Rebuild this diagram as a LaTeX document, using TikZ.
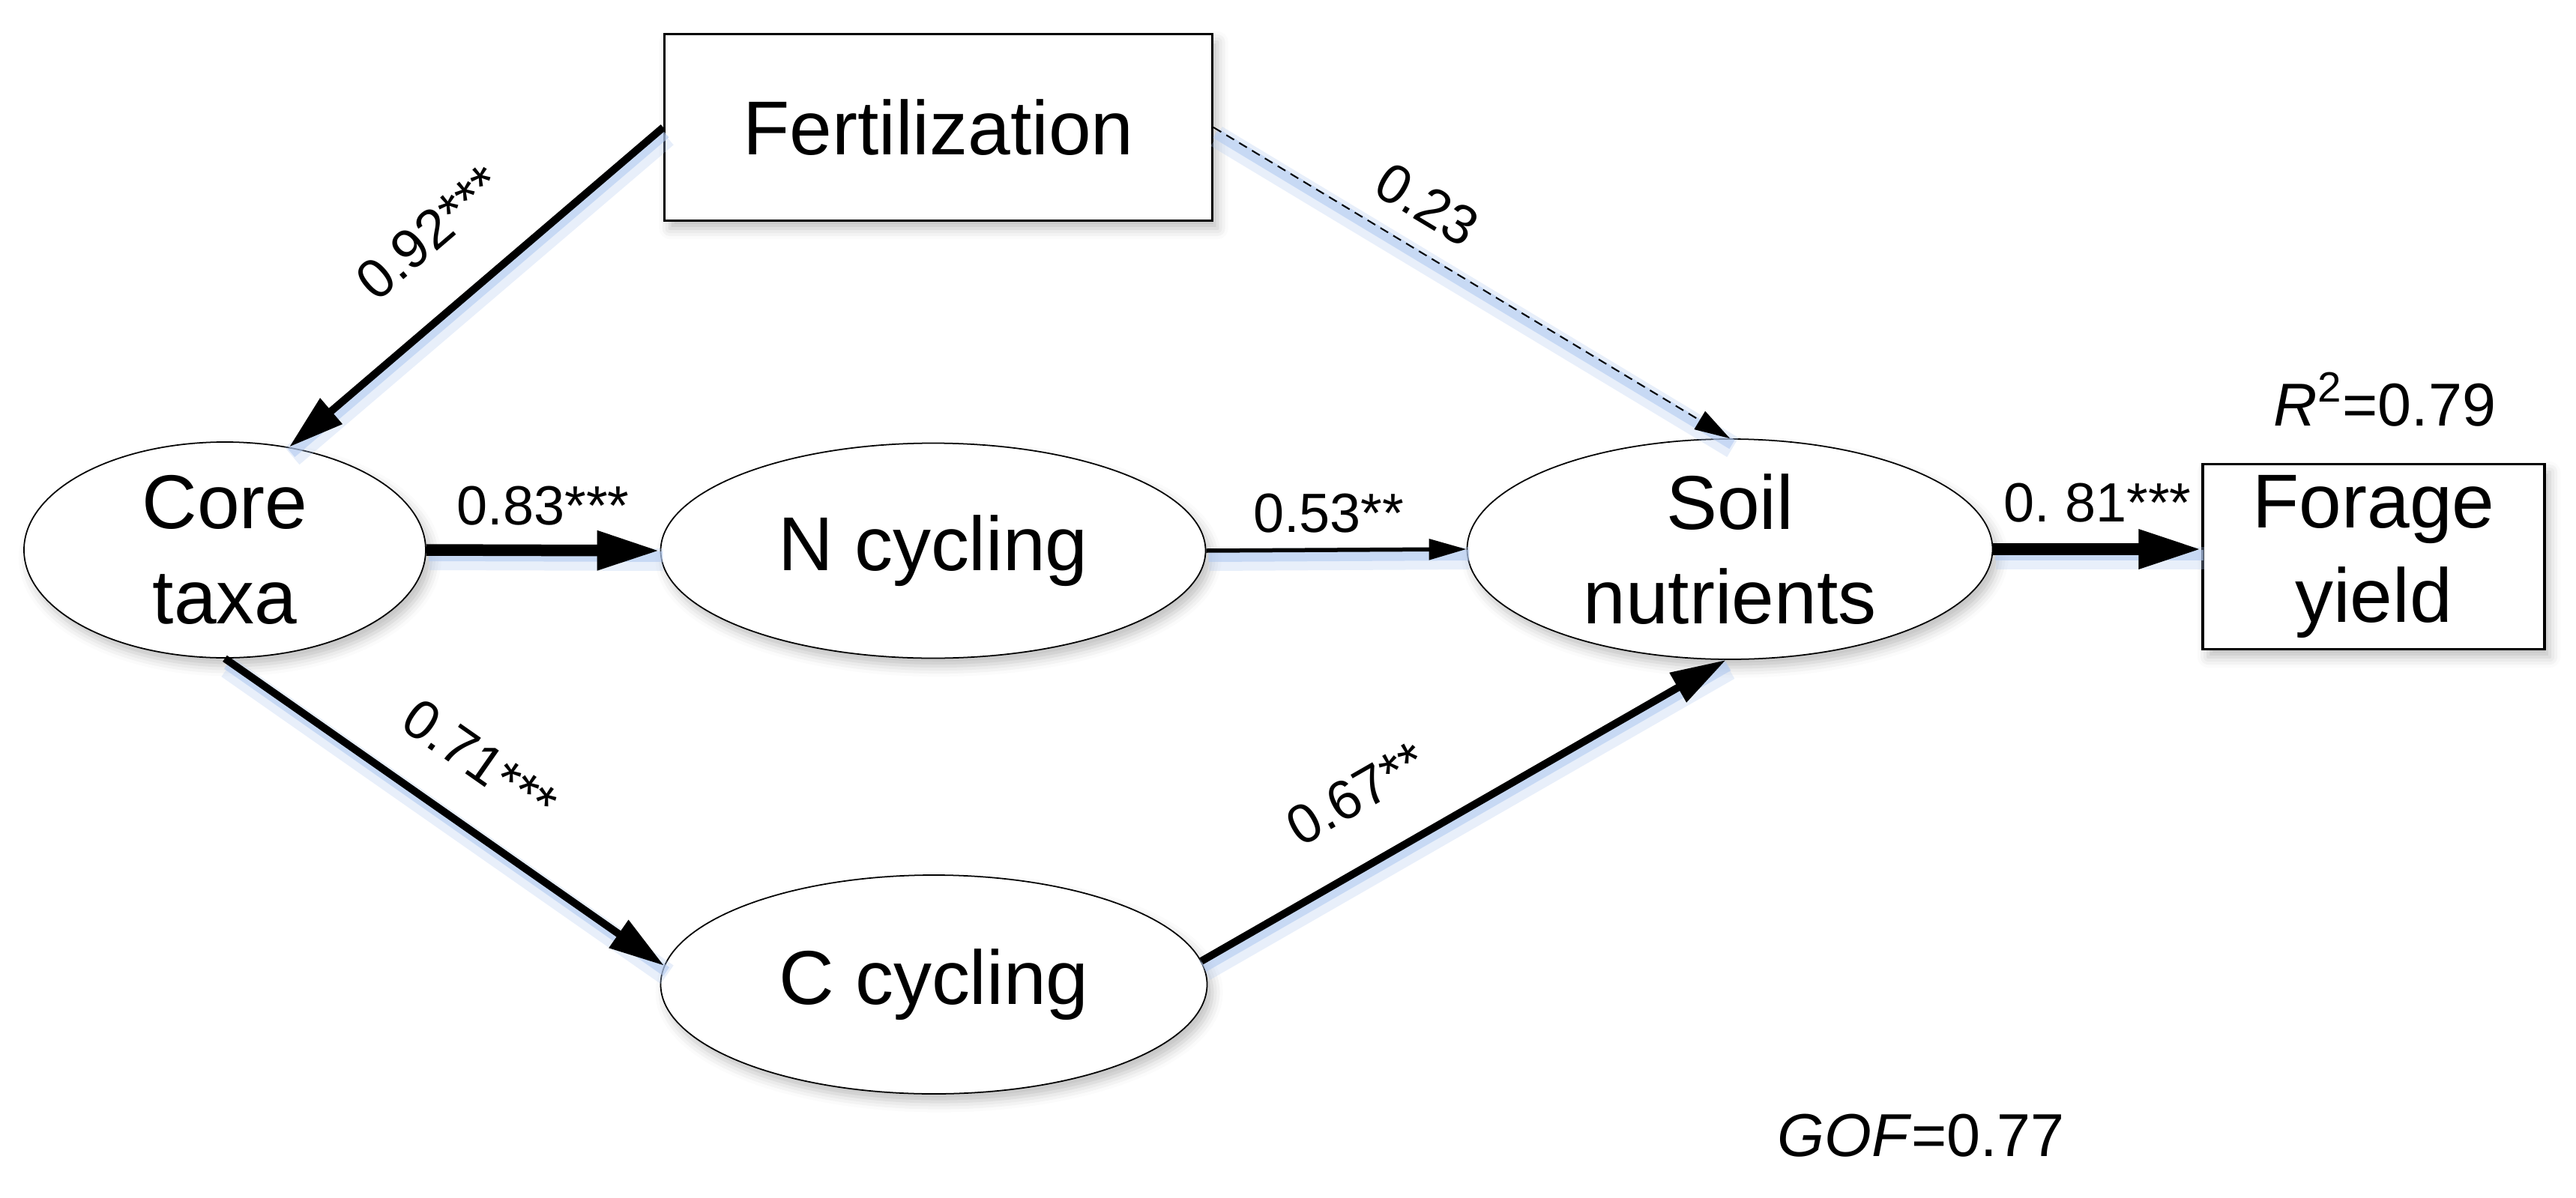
\documentclass[tikz,border=0pt]{standalone}
\usepackage{fontspec}
\setmainfont{Liberation Sans}
\usepackage{tikz}
\usetikzlibrary{arrows.meta,shapes,shadows.blur,positioning}
\definecolor{glow}{RGB}{178,202,240}
\newcommand\varfont{\fontsize{29}{36}\selectfont}
\newcommand\coeffont{\fontsize{21}{25}\selectfont}
\newcommand\statfont{\fontsize{23}{27}\selectfont}
\tikzstyle{latent}=[draw,ellipse,fill=white,align=center,inner xsep=0pt,inner ysep=-0.3cm,
  line width=0.5pt,font=\varfont,
  blur shadow={shadow xshift=2pt,shadow yshift=-3pt,shadow opacity=25,shadow blur radius=4pt}]
\tikzstyle{manifest}=[draw,rectangle,fill=white,align=center,inner sep=0pt,
  line width=0.9pt,font=\varfont,
  blur shadow={shadow xshift=2pt,shadow yshift=-3pt,shadow opacity=25,shadow blur radius=4pt}]
\tikzstyle{coef}=[font=\coeffont,inner sep=0pt]
\tikzstyle{stat}=[font=\statfont,inner sep=0pt]
\tikzstyle{glowline}=[preaction={draw=glow,-,opacity=0.3,line width=0.3cm,
  transform canvas={shift={(0.04,-0.12)}}},
  preaction={draw=glow,-,opacity=0.6,line width=0.14cm,
  transform canvas={shift={(0.03,-0.08)}}}]
\tikzstyle{pathH}=[>={Triangle[length=0.84cm,width=0.49cm]},draw,glowline,line width=0.155cm,black]
\tikzstyle{pathM}=[>={Triangle[length=0.74cm,width=0.43cm]},draw,glowline,line width=0.1cm,black]
\tikzstyle{pathL}=[>={Triangle[length=0.5cm,width=0.27cm]},draw,glowline,line width=0.055cm,black]
\tikzstyle{pathN}=[>={Triangle[length=0.47cm,width=0.28cm]},draw,glowline,line width=0.02cm,
  dash pattern=on 0.12cm off 0.08cm,black]

\begin{document}
\begin{tikzpicture}
	\useasboundingbox (0,0) rectangle (34.37,-15.99);

	\node[manifest,minimum width=7.31cm,minimum height=2.49cm] (fert) at (12.52,-1.70) {Fertilization};
	\node[latent,minimum width=5.36cm,minimum height=2.88cm] (core) at (3.00,-7.34) {Core\\taxa};
	\node[latent,minimum width=7.27cm,minimum height=2.87cm] (ncyc) at (12.45,-7.35) {N cycling};
	\node[latent,minimum width=7.29cm,minimum height=2.92cm] (ccyc) at (12.46,-13.14) {C cycling};
	\node[latent,minimum width=7.01cm,minimum height=2.94cm] (soil) at (23.08,-7.33) {Soil\\nutrients};
	\node[manifest,minimum width=4.56cm,minimum height=2.47cm] (yield) at (31.67,-7.43) {Forage\\yield};

	\node[stat,above=0.48cm of yield,xshift=0.15cm] (rsq) {\textit{R}\textsuperscript{2}=0.79};
	\node[stat] (gof) at (25.63,-15.16) {\textit{GOF}=0.77};

	\path[pathM,->] (fert.west) -- 
	node [pos=0.5, above=0.65cm, sloped, coef] {0.92***} (core.58);
	\path[pathN,->] (fert.east) -- 
	node [pos=0.37, above=0.32cm, sloped, coef] {0.23} (soil.north);

	\path[pathH,->] (core.east) -- 
	node [midway, above=0.26cm, coef] {0.83***} (ncyc.west);
	\path[pathM,->] (core.south) -- 
	node [pos=0.5, above=0.52cm, sloped, coef] {0.71***} (ccyc.176);

	\path[pathL,->] (ncyc.east) -- 
	node [pos=0.47, above=0.2cm, coef] {0.53**} (soil.west);
	\path[pathM,->] (ccyc.5) -- 
	node [pos=0.36, above=0.6cm, sloped, coef] {0.67**} (soil.268);

	\path[pathH,->] (soil.east) -- 
	node [midway, above=0.28cm, coef] {0.\ 81***} (soil.east -| yield.west);
\end{tikzpicture}
\end{document}
